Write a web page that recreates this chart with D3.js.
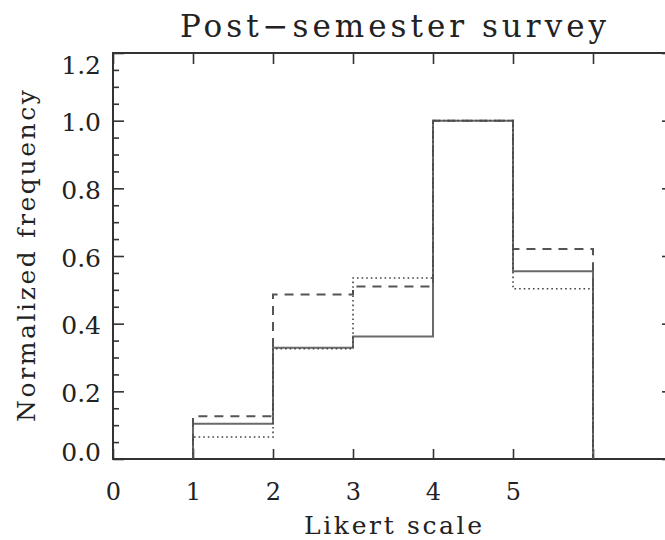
<!DOCTYPE html>
<html>
<head>
<meta charset="utf-8">
<script src="https://cdn.jsdelivr.net/npm/d3@7"></script>
<style>
  body { margin: 0; background: #fff; }
  svg text { font-family: "DejaVu Serif", serif; fill: #222; }
</style>
</head>
<body>
<svg width="665" height="540"></svg>
<script>
// bins on the Likert scale (left edge of each bin)
var categories = [1, 2, 3, 4, 5];
// three histograms, normalized to the peak
var solidVals  = [0.104, 0.329, 0.362, 1.0, 0.555];
var dashedVals = [0.126, 0.486, 0.510, 1.0, 0.621];
var dottedVals = [0.065, 0.326, 0.535, 1.0, 0.503];
// tick values and labels
var xTicks = [0, 1, 2, 3, 4, 5, 6, 7];
var xTickLabels = ["0", "1", "2", "3", "4", "5", "", ""];
var yTicks = [0, 0.2, 0.4, 0.6, 0.8, 1.0, 1.2];
var yTickLabels = ["0.0", "0.2", "0.4", "0.6", "0.8", "1.0", "1.2"];

var svg = d3.select('svg');

// sizing
var margin = {top: 53, right: -8, bottom: 81, left: 113},
    width = +svg.attr("width") - margin.left - margin.right,
    height = +svg.attr("height") - margin.top - margin.bottom;

var x = d3.scaleLinear().domain([0, 7]).range([margin.left, margin.left + width]);
var y = d3.scaleLinear().domain([0, 1.2]).range([margin.top + height, margin.top]);

var axisColor = "#333";

// minor y ticks every 0.05
var minor = d3.range(0, 1.2001, 0.05).filter(function (v) {
    return Math.abs(Math.round(v / 0.2) * 0.2 - v) > 1e-6;
});

// left axis: major
var gl = svg.append("g")
    .attr("transform", "translate(" + x(0) + ",0)")
    .call(d3.axisLeft(y).tickValues(yTicks).tickSize(-11).tickPadding(12)
          .tickFormat(function (d, i) { return yTickLabels[i]; }));
gl.selectAll("text")
    .attr("dy", null)
    .attr("y", function (d) { return Math.min(460, Math.max(73, y(d) + 10)) - y(d); })
    .style("font-size", "25px");

// left axis: minor
svg.append("g")
    .attr("transform", "translate(" + x(0) + ",0)")
    .call(d3.axisLeft(y).tickValues(minor).tickSize(-6).tickFormat(""));

// right axis
svg.append("g")
    .attr("transform", "translate(" + x(7) + ",0)")
    .call(d3.axisRight(y).tickValues(yTicks).tickSize(-11).tickFormat(""));
svg.append("g")
    .attr("transform", "translate(" + x(7) + ",0)")
    .call(d3.axisRight(y).tickValues(minor).tickSize(-6).tickFormat(""));

// bottom axis
var gb = svg.append("g")
    .attr("transform", "translate(0," + y(0) + ")")
    .call(d3.axisBottom(x).tickValues(xTicks).tickSize(-10).tickPadding(0)
          .tickFormat(function (d, i) { return xTickLabels[i]; }));
gb.selectAll("text")
    .attr("dy", null)
    .attr("y", 41)
    .style("font-size", "24px");

// top axis
svg.append("g")
    .attr("transform", "translate(0," + y(1.2) + ")")
    .call(d3.axisTop(x).tickValues(xTicks).tickSize(-11).tickFormat(""));

svg.selectAll(".domain").remove();
svg.selectAll(".tick line")
    .attr("stroke", axisColor)
    .attr("stroke-width", 1.6);

// frame
svg.append("rect")
    .attr("x", x(0)).attr("y", y(1.2))
    .attr("width", x(7) - x(0)).attr("height", y(0) - y(1.2))
    .attr("fill", "none")
    .attr("stroke", axisColor)
    .attr("stroke-width", 2);

// histogram steps
function stepPoints(vals) {
    var pts = [[categories[0], 0]];
    categories.forEach(function (c, i) { pts.push([c, vals[i]]); });
    var last = categories[categories.length - 1] + 1;
    pts.push([last, vals[vals.length - 1]]);
    pts.push([last, 0]);
    return pts;
}

var line = d3.line()
    .x(function (d) { return x(d[0]); })
    .y(function (d) { return y(d[1]); })
    .curve(d3.curveStepAfter);

var series = [
    { vals: solidVals,  color: "#6a6a6a", w: 2,   dash: null },
    { vals: dashedVals, color: "#555",    w: 2,   dash: "9,7" },
    { vals: dottedVals, color: "#444",    w: 1.6, dash: "1.6,3" }
];

svg.selectAll("path.hist")
    .data(series)
    .enter().append("path")
    .attr("class", "hist")
    .attr("d", function (d) { return line(stepPoints(d.vals)); })
    .attr("fill", "none")
    .attr("stroke", function (d) { return d.color; })
    .attr("stroke-width", function (d) { return d.w; })
    .attr("stroke-dasharray", function (d) { return d.dash; });

// titles
var cx = (x(0) + x(7)) / 2;
svg.append("text")
    .attr("x", cx).attr("y", 37)
    .attr("text-anchor", "middle")
    .attr("textLength", 426).attr("lengthAdjust", "spacing")
    .style("font-size", "31px")
    .text("Post\u2212semester survey");

svg.append("text")
    .attr("x", cx).attr("y", 534)
    .attr("text-anchor", "middle")
    .attr("textLength", 178).attr("lengthAdjust", "spacing")
    .style("font-size", "25px")
    .text("Likert scale");

svg.append("text")
    .attr("transform", "translate(35," + ((y(0) + y(1.2)) / 2) + ") rotate(-90)")
    .attr("text-anchor", "middle")
    .attr("textLength", 332).attr("lengthAdjust", "spacing")
    .style("font-size", "25px")
    .text("Normalized frequency");
</script>
</body>
</html>
